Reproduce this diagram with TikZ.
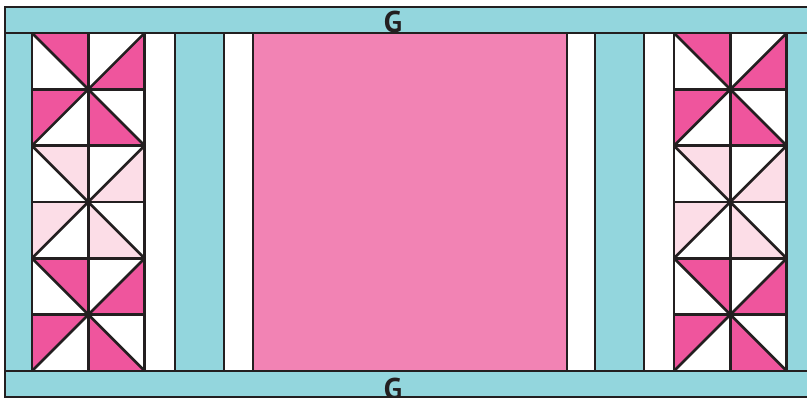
\documentclass[tikz,border=0pt]{standalone}
\usepackage{fontspec}
\setmainfont{PT Sans}
\usepackage{xcolor}
\definecolor{borderblue}{HTML}{93D6DD}
\definecolor{hotpink}{HTML}{EF559D}
\definecolor{centerpink}{HTML}{F283B4}
\definecolor{palepink}{HTML}{FCDDE7}
\definecolor{seamline}{HTML}{231F20}

\tikzset{
  seam/.style={seamline,line width=2.6pt,line join=miter},
  label G/.style={font=\fontsize{30}{30}\selectfont\bfseries,text=seamline,inner sep=0pt}
}

\begin{document}
\begin{tikzpicture}[x=1pt,y=-1pt]
  \useasboundingbox (0,0) rectangle (807,398);
  % Cyan background and bands
  \fill[borderblue] (5,7) rectangle (815,397);
  % White sashing strips
  \fill[white] (145,33) rectangle (175,371);
  \fill[white] (224,33) rectangle (253,371);
  \fill[white] (567,33) rectangle (595,371);
  \fill[white] (644,33) rectangle (674,371);
  % Center panel
  \fill[centerpink] (253,33) rectangle (567,371);
  % Pinwheel blocks
  \def\h{56.33}
  \foreach \a in {32,674}{
    \foreach \b/\col in {33/hotpink,145.67/palepink,258.33/hotpink}{
      \fill[white] (\a,\b) rectangle (\a+2*\h,\b+2*\h);
      \fill[\col] (\a,\b) -- (\a+\h,\b) -- (\a+\h,\b+\h) -- cycle;
      \fill[\col] (\a+2*\h,\b) -- (\a+2*\h,\b+\h) -- (\a+\h,\b+\h) -- cycle;
      \fill[\col] (\a+2*\h,\b+2*\h) -- (\a+\h,\b+2*\h) -- (\a+\h,\b+\h) -- cycle;
      \fill[\col] (\a,\b+2*\h) -- (\a,\b+\h) -- (\a+\h,\b+\h) -- cycle;
      \draw[seam] (\a,\b) rectangle (\a+2*\h,\b+2*\h);
      \draw[seam] (\a+\h,\b) -- (\a+\h,\b+2*\h);
      \draw[seam] (\a,\b+\h) -- (\a+2*\h,\b+\h);
      \draw[seam] (\a,\b) -- (\a+2*\h,\b+2*\h);
      \draw[seam] (\a,\b+2*\h) -- (\a+2*\h,\b);
    }
  }
  % Seams
  \foreach \x in {175,224,253,567,595,644}
    \draw[seam] (\x,33) -- (\x,371);
  \draw[seam] (5,33) -- (815,33);
  \draw[seam] (5,371) -- (815,371);
  \draw[seam] (5,7) rectangle (815,397);
  % Labels
  \node[label G] (topG) at (393,22) {G};
  \node[label G] (bottomG) at (393,389.5) {G};
\end{tikzpicture}
\end{document}
